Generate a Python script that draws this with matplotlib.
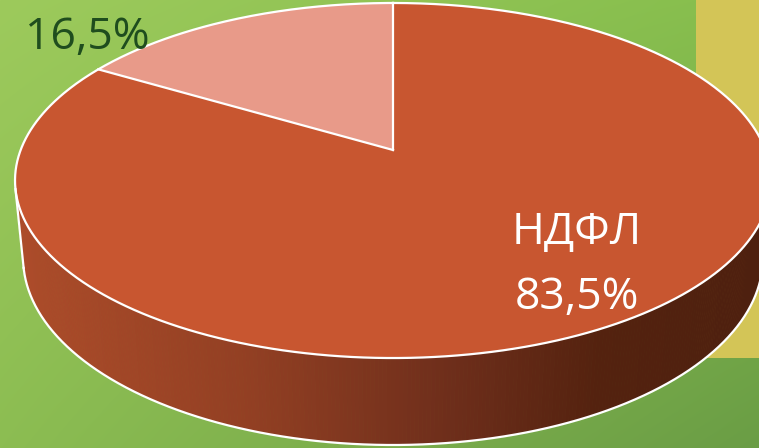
import numpy as np
import matplotlib
matplotlib.use("Agg")
import matplotlib.pyplot as plt
from matplotlib.collections import PolyCollection
from matplotlib.colors import to_rgb

# ---- data ----
categories = ["Прочие", "НДФЛ"]
values = [16.5, 83.5]
value_labels = ["16,5%", "83,5%"]
slice_colors = ["#E89A89", "#C85630"]

# ---- figure ----
W, H = 759, 448
fig = plt.figure(figsize=(W / 100, H / 100), dpi=100)
ax = fig.add_axes([0, 0, 1, 1])
ax.set_xlim(0, W)
ax.set_ylim(H, 0)
ax.axis("off")

# background gradient
yy, xx = np.mgrid[0:H, 0:W]
tl, tr = np.array(to_rgb("#9DCA5C")), np.array(to_rgb("#86BE4D"))
bl, br = np.array(to_rgb("#8CBD52")), np.array(to_rgb("#6A9D45"))
fx = (xx / W)[..., None]
fy = (yy / H)[..., None]
bg = (1 - fy) * ((1 - fx) * tl + fx * tr) + fy * ((1 - fx) * bl + fx * br)
ax.imshow(bg, extent=[0, W, H, 0], aspect="auto", zorder=0)
ax.add_patch(plt.Rectangle((696, 0), 70, 358, color="#D3C557", zorder=1, lw=0))

# ---- perspective projection of a 3D disc ----
cx, cy = 393, 150
e = np.radians(27.56)
s, c = np.sin(e), np.cos(e)
D = 5.159
f = 1921.0
t = 0.2372


def proj(phi_deg, w=0.0):
    p = np.radians(np.asarray(phi_deg, dtype=float))
    u, v = np.sin(p), np.cos(p)
    xc = u
    yc = v * s + w * c
    zc = D + v * c - w * s
    return cx + f * xc / zc, cy - f * yc / zc


# angles: start at 12 o'clock, big slice clockwise first
fracs = np.array(values) / sum(values)
big_end = 360 * fracs[1]          # НДФЛ: 0 -> big_end
small_start, small_end = big_end, 360.0

# side wall (visible front part)
vsil = -1 / (D * c)
phi_sil = np.degrees(np.arccos(vsil))
ph_r, ph_l = phi_sil, 360 - phi_sil
phis = np.linspace(ph_r, ph_l, 300)
xt, yt = proj(phis, 0)
xb, yb = proj(phis, -t)
stops_x = [15, 250, 450, 600, 760]
stops_c = [to_rgb(h) for h in ["#AD4C2A", "#923F23", "#6E2E1B", "#54220F", "#4E200F"]]
quads, cols = [], []
for i in range(len(phis) - 1):
    quads.append([(xt[i], yt[i]), (xt[i + 1], yt[i + 1]), (xb[i + 1], yb[i + 1]), (xb[i], yb[i])])
    mx = (xt[i] + xt[i + 1]) / 2
    col = [np.interp(mx, stops_x, [sc[k] for sc in stops_c]) for k in range(3)]
    cols.append(col)
ax.add_collection(PolyCollection(quads, facecolors=cols, edgecolors=cols, linewidths=0.6, zorder=2))

# top faces
for (a0, a1), col in [((0, big_end), slice_colors[1]), ((small_start, small_end), slice_colors[0])]:
    ph = np.linspace(a0, a1, 300)
    x, y = proj(ph, 0)
    ax.fill(np.r_[cx, x], np.r_[cy, y], color=col, lw=0, zorder=3)

# white outlines
lw = 1.6
x, y = proj(np.linspace(0, 360, 720), 0)
ax.plot(x, y, color="white", lw=lw, zorder=4)
ax.plot(xb, yb, color="white", lw=lw, zorder=4)
for ph in (ph_r, ph_l):
    x0, y0 = proj(ph, 0)
    x1, y1 = proj(ph, -t)
    ax.plot([x0, x1], [y0, y1], color="white", lw=lw, zorder=4)
for ph in (0, big_end):
    x0, y0 = proj(ph, 0)
    ax.plot([cx, x0], [cy, y0], color="white", lw=lw, zorder=4)

# labels
font = "Open Sans"
ax.text(87, 38, value_labels[0], color="#1F4D1E", fontsize=32, family=font,
        ha="center", va="center", zorder=5)
ax.text(577, 233, categories[1], color="white", fontsize=32, family=font,
        ha="center", va="center", zorder=5)
ax.text(577, 298, value_labels[1], color="white", fontsize=32, family=font,
        ha="center", va="center", zorder=5)

fig.savefig("out.png", dpi=100)
